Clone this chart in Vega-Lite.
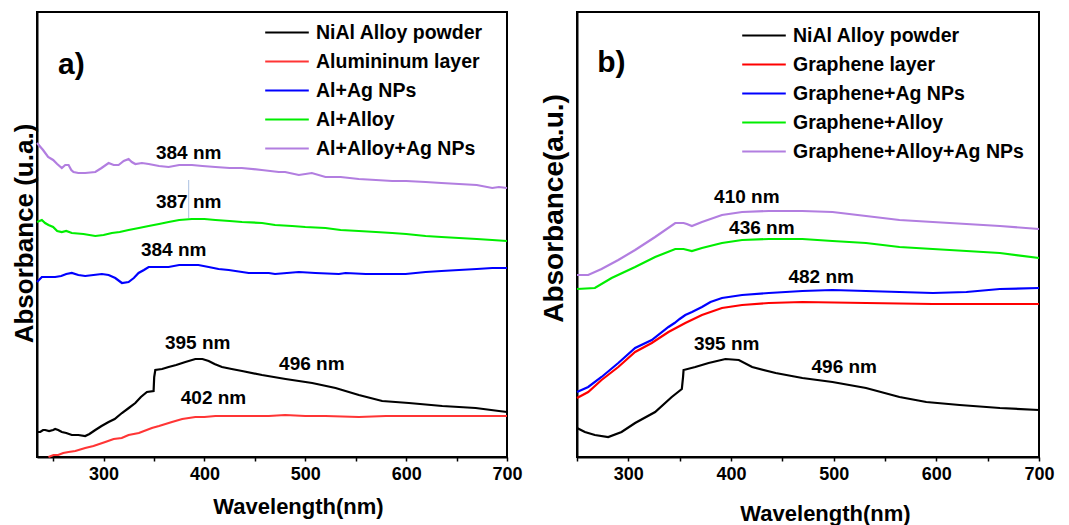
{
  "$schema": "https://vega.github.io/schema/vega-lite/v6.json",
  "background": "white",
  "padding": {"left": 10, "top": 11, "right": 5, "bottom": 0},
  "bounds": "flush",
  "spacing": 70,
  "config": {
    "font": "Liberation Sans",
    "view": {"stroke": "black", "strokeWidth": 2},
    "axis": {
      "grid": false,
      "domainColor": "black",
      "domainWidth": 2,
      "tickColor": "black",
      "tickWidth": 1.5,
      "labelFont": "Liberation Sans",
      "labelFontWeight": "bold",
      "labelColor": "black",
      "titleFont": "Liberation Sans",
      "titleFontWeight": "bold",
      "titleColor": "black"
    },
    "legend": {
      "orient": "none",
      "title": null,
      "symbolType": "stroke",
      "symbolSize": 1900,
      "symbolStrokeWidth": 2.2,
      "labelFont": "Liberation Sans",
      "labelFontWeight": "bold",
      "labelFontSize": 19.5,
      "labelColor": "black",
      "labelLimit": 0,
      "clipHeight": 29,
      "rowPadding": 0,
      "labelOffset": 6
    }
  },
  "datasets": {
    "specA": [
      {"sample": "Al+Alloy+Ag NPs", "wavelength": 234, "absorbance": 3.14},
      {"sample": "Al+Alloy+Ag NPs", "wavelength": 240, "absorbance": 3.07},
      {"sample": "Al+Alloy+Ag NPs", "wavelength": 245, "absorbance": 3.0},
      {"sample": "Al+Alloy+Ag NPs", "wavelength": 250, "absorbance": 2.97},
      {"sample": "Al+Alloy+Ag NPs", "wavelength": 254, "absorbance": 2.93},
      {"sample": "Al+Alloy+Ag NPs", "wavelength": 258.6, "absorbance": 2.89},
      {"sample": "Al+Alloy+Ag NPs", "wavelength": 262, "absorbance": 2.92},
      {"sample": "Al+Alloy+Ag NPs", "wavelength": 265.3, "absorbance": 2.92},
      {"sample": "Al+Alloy+Ag NPs", "wavelength": 268, "absorbance": 2.87},
      {"sample": "Al+Alloy+Ag NPs", "wavelength": 270.2, "absorbance": 2.85},
      {"sample": "Al+Alloy+Ag NPs", "wavelength": 275, "absorbance": 2.84},
      {"sample": "Al+Alloy+Ag NPs", "wavelength": 281.8, "absorbance": 2.84},
      {"sample": "Al+Alloy+Ag NPs", "wavelength": 291.8, "absorbance": 2.85},
      {"sample": "Al+Alloy+Ag NPs", "wavelength": 298, "absorbance": 2.89},
      {"sample": "Al+Alloy+Ag NPs", "wavelength": 305, "absorbance": 2.94},
      {"sample": "Al+Alloy+Ag NPs", "wavelength": 310, "absorbance": 2.92},
      {"sample": "Al+Alloy+Ag NPs", "wavelength": 314.9, "absorbance": 2.92},
      {"sample": "Al+Alloy+Ag NPs", "wavelength": 320, "absorbance": 2.96},
      {"sample": "Al+Alloy+Ag NPs", "wavelength": 324.8, "absorbance": 2.98},
      {"sample": "Al+Alloy+Ag NPs", "wavelength": 328, "absorbance": 2.95},
      {"sample": "Al+Alloy+Ag NPs", "wavelength": 331.5, "absorbance": 2.93},
      {"sample": "Al+Alloy+Ag NPs", "wavelength": 338, "absorbance": 2.94},
      {"sample": "Al+Alloy+Ag NPs", "wavelength": 344.7, "absorbance": 2.93},
      {"sample": "Al+Alloy+Ag NPs", "wavelength": 355, "absorbance": 2.91},
      {"sample": "Al+Alloy+Ag NPs", "wavelength": 364.5, "absorbance": 2.9},
      {"sample": "Al+Alloy+Ag NPs", "wavelength": 375, "absorbance": 2.92},
      {"sample": "Al+Alloy+Ag NPs", "wavelength": 387.6, "absorbance": 2.92},
      {"sample": "Al+Alloy+Ag NPs", "wavelength": 398, "absorbance": 2.91},
      {"sample": "Al+Alloy+Ag NPs", "wavelength": 410.9, "absorbance": 2.9},
      {"sample": "Al+Alloy+Ag NPs", "wavelength": 425, "absorbance": 2.89},
      {"sample": "Al+Alloy+Ag NPs", "wavelength": 437, "absorbance": 2.89},
      {"sample": "Al+Alloy+Ag NPs", "wavelength": 456.8, "absorbance": 2.87},
      {"sample": "Al+Alloy+Ag NPs", "wavelength": 473.7, "absorbance": 2.85},
      {"sample": "Al+Alloy+Ag NPs", "wavelength": 480, "absorbance": 2.85},
      {"sample": "Al+Alloy+Ag NPs", "wavelength": 493.6, "absorbance": 2.82},
      {"sample": "Al+Alloy+Ag NPs", "wavelength": 506.5, "absorbance": 2.84},
      {"sample": "Al+Alloy+Ag NPs", "wavelength": 520, "absorbance": 2.8},
      {"sample": "Al+Alloy+Ag NPs", "wavelength": 535, "absorbance": 2.8},
      {"sample": "Al+Alloy+Ag NPs", "wavelength": 553, "absorbance": 2.78},
      {"sample": "Al+Alloy+Ag NPs", "wavelength": 570, "absorbance": 2.77},
      {"sample": "Al+Alloy+Ag NPs", "wavelength": 586.2, "absorbance": 2.76},
      {"sample": "Al+Alloy+Ag NPs", "wavelength": 600, "absorbance": 2.76},
      {"sample": "Al+Alloy+Ag NPs", "wavelength": 619.3, "absorbance": 2.75},
      {"sample": "Al+Alloy+Ag NPs", "wavelength": 635, "absorbance": 2.74},
      {"sample": "Al+Alloy+Ag NPs", "wavelength": 652.4, "absorbance": 2.73},
      {"sample": "Al+Alloy+Ag NPs", "wavelength": 670, "absorbance": 2.72},
      {"sample": "Al+Alloy+Ag NPs", "wavelength": 685.4, "absorbance": 2.69},
      {"sample": "Al+Alloy+Ag NPs", "wavelength": 692, "absorbance": 2.7},
      {"sample": "Al+Alloy+Ag NPs", "wavelength": 700, "absorbance": 2.69},

      {"sample": "Al+Alloy", "wavelength": 234, "absorbance": 2.35},
      {"sample": "Al+Alloy", "wavelength": 238.8, "absorbance": 2.37},
      {"sample": "Al+Alloy", "wavelength": 242, "absorbance": 2.34},
      {"sample": "Al+Alloy", "wavelength": 245.4, "absorbance": 2.32},
      {"sample": "Al+Alloy", "wavelength": 250, "absorbance": 2.3},
      {"sample": "Al+Alloy", "wavelength": 254, "absorbance": 2.26},
      {"sample": "Al+Alloy", "wavelength": 258.6, "absorbance": 2.25},
      {"sample": "Al+Alloy", "wavelength": 263, "absorbance": 2.26},
      {"sample": "Al+Alloy", "wavelength": 268.5, "absorbance": 2.24},
      {"sample": "Al+Alloy", "wavelength": 280, "absorbance": 2.23},
      {"sample": "Al+Alloy", "wavelength": 291.8, "absorbance": 2.21},
      {"sample": "Al+Alloy", "wavelength": 300, "absorbance": 2.22},
      {"sample": "Al+Alloy", "wavelength": 308.2, "absorbance": 2.24},
      {"sample": "Al+Alloy", "wavelength": 316, "absorbance": 2.25},
      {"sample": "Al+Alloy", "wavelength": 324.8, "absorbance": 2.27},
      {"sample": "Al+Alloy", "wavelength": 335, "absorbance": 2.29},
      {"sample": "Al+Alloy", "wavelength": 344.7, "absorbance": 2.31},
      {"sample": "Al+Alloy", "wavelength": 355, "absorbance": 2.33},
      {"sample": "Al+Alloy", "wavelength": 364.5, "absorbance": 2.35},
      {"sample": "Al+Alloy", "wavelength": 375, "absorbance": 2.37},
      {"sample": "Al+Alloy", "wavelength": 387.6, "absorbance": 2.38},
      {"sample": "Al+Alloy", "wavelength": 400, "absorbance": 2.38},
      {"sample": "Al+Alloy", "wavelength": 410.9, "absorbance": 2.37},
      {"sample": "Al+Alloy", "wavelength": 425, "absorbance": 2.36},
      {"sample": "Al+Alloy", "wavelength": 437.3, "absorbance": 2.35},
      {"sample": "Al+Alloy", "wavelength": 457.1, "absorbance": 2.34},
      {"sample": "Al+Alloy", "wavelength": 470, "absorbance": 2.32},
      {"sample": "Al+Alloy", "wavelength": 486.9, "absorbance": 2.31},
      {"sample": "Al+Alloy", "wavelength": 500, "absorbance": 2.3},
      {"sample": "Al+Alloy", "wavelength": 520, "absorbance": 2.29},
      {"sample": "Al+Alloy", "wavelength": 535, "absorbance": 2.27},
      {"sample": "Al+Alloy", "wavelength": 553, "absorbance": 2.26},
      {"sample": "Al+Alloy", "wavelength": 570, "absorbance": 2.25},
      {"sample": "Al+Alloy", "wavelength": 586.2, "absorbance": 2.24},
      {"sample": "Al+Alloy", "wavelength": 600, "absorbance": 2.23},
      {"sample": "Al+Alloy", "wavelength": 619.3, "absorbance": 2.21},
      {"sample": "Al+Alloy", "wavelength": 635, "absorbance": 2.2},
      {"sample": "Al+Alloy", "wavelength": 652.4, "absorbance": 2.19},
      {"sample": "Al+Alloy", "wavelength": 670, "absorbance": 2.18},
      {"sample": "Al+Alloy", "wavelength": 685.4, "absorbance": 2.17},
      {"sample": "Al+Alloy", "wavelength": 700, "absorbance": 2.16},

      {"sample": "Al+Ag NPs", "wavelength": 234, "absorbance": 1.75},
      {"sample": "Al+Ag NPs", "wavelength": 238.8, "absorbance": 1.8},
      {"sample": "Al+Ag NPs", "wavelength": 245, "absorbance": 1.8},
      {"sample": "Al+Ag NPs", "wavelength": 252, "absorbance": 1.8},
      {"sample": "Al+Ag NPs", "wavelength": 258, "absorbance": 1.81},
      {"sample": "Al+Ag NPs", "wavelength": 263, "absorbance": 1.83},
      {"sample": "Al+Ag NPs", "wavelength": 268.5, "absorbance": 1.84},
      {"sample": "Al+Ag NPs", "wavelength": 275, "absorbance": 1.82},
      {"sample": "Al+Ag NPs", "wavelength": 281.8, "absorbance": 1.81},
      {"sample": "Al+Ag NPs", "wavelength": 290, "absorbance": 1.82},
      {"sample": "Al+Ag NPs", "wavelength": 298.3, "absorbance": 1.83},
      {"sample": "Al+Ag NPs", "wavelength": 305, "absorbance": 1.82},
      {"sample": "Al+Ag NPs", "wavelength": 311.6, "absorbance": 1.79},
      {"sample": "Al+Ag NPs", "wavelength": 318.2, "absorbance": 1.74},
      {"sample": "Al+Ag NPs", "wavelength": 324.8, "absorbance": 1.75},
      {"sample": "Al+Ag NPs", "wavelength": 330, "absorbance": 1.79},
      {"sample": "Al+Ag NPs", "wavelength": 334.7, "absorbance": 1.84},
      {"sample": "Al+Ag NPs", "wavelength": 340, "absorbance": 1.87},
      {"sample": "Al+Ag NPs", "wavelength": 344.7, "absorbance": 1.9},
      {"sample": "Al+Ag NPs", "wavelength": 355, "absorbance": 1.9},
      {"sample": "Al+Ag NPs", "wavelength": 364.5, "absorbance": 1.9},
      {"sample": "Al+Ag NPs", "wavelength": 375, "absorbance": 1.92},
      {"sample": "Al+Ag NPs", "wavelength": 384.4, "absorbance": 1.92},
      {"sample": "Al+Ag NPs", "wavelength": 394, "absorbance": 1.92},
      {"sample": "Al+Ag NPs", "wavelength": 404.2, "absorbance": 1.9},
      {"sample": "Al+Ag NPs", "wavelength": 414, "absorbance": 1.88},
      {"sample": "Al+Ag NPs", "wavelength": 424.1, "absorbance": 1.87},
      {"sample": "Al+Ag NPs", "wavelength": 443.9, "absorbance": 1.84},
      {"sample": "Al+Ag NPs", "wavelength": 463.8, "absorbance": 1.84},
      {"sample": "Al+Ag NPs", "wavelength": 470, "absorbance": 1.83},
      {"sample": "Al+Ag NPs", "wavelength": 493.6, "absorbance": 1.85},
      {"sample": "Al+Ag NPs", "wavelength": 510, "absorbance": 1.84},
      {"sample": "Al+Ag NPs", "wavelength": 533.3, "absorbance": 1.83},
      {"sample": "Al+Ag NPs", "wavelength": 540, "absorbance": 1.84},
      {"sample": "Al+Ag NPs", "wavelength": 560, "absorbance": 1.83},
      {"sample": "Al+Ag NPs", "wavelength": 599.5, "absorbance": 1.83},
      {"sample": "Al+Ag NPs", "wavelength": 619.3, "absorbance": 1.85},
      {"sample": "Al+Ag NPs", "wavelength": 635, "absorbance": 1.86},
      {"sample": "Al+Ag NPs", "wavelength": 652.4, "absorbance": 1.87},
      {"sample": "Al+Ag NPs", "wavelength": 670, "absorbance": 1.88},
      {"sample": "Al+Ag NPs", "wavelength": 685.4, "absorbance": 1.89},
      {"sample": "Al+Ag NPs", "wavelength": 700, "absorbance": 1.89},

      {"sample": "NiAl Alloy powder", "wavelength": 234, "absorbance": 0.25},
      {"sample": "NiAl Alloy powder", "wavelength": 237.2, "absorbance": 0.25},
      {"sample": "NiAl Alloy powder", "wavelength": 240, "absorbance": 0.27},
      {"sample": "NiAl Alloy powder", "wavelength": 242.1, "absorbance": 0.27},
      {"sample": "NiAl Alloy powder", "wavelength": 246, "absorbance": 0.26},
      {"sample": "NiAl Alloy powder", "wavelength": 250, "absorbance": 0.27},
      {"sample": "NiAl Alloy powder", "wavelength": 252, "absorbance": 0.28},
      {"sample": "NiAl Alloy powder", "wavelength": 255, "absorbance": 0.27},
      {"sample": "NiAl Alloy powder", "wavelength": 258.6, "absorbance": 0.25},
      {"sample": "NiAl Alloy powder", "wavelength": 263, "absorbance": 0.24},
      {"sample": "NiAl Alloy powder", "wavelength": 268.5, "absorbance": 0.22},
      {"sample": "NiAl Alloy powder", "wavelength": 275, "absorbance": 0.22},
      {"sample": "NiAl Alloy powder", "wavelength": 281.8, "absorbance": 0.21},
      {"sample": "NiAl Alloy powder", "wavelength": 286, "absorbance": 0.23},
      {"sample": "NiAl Alloy powder", "wavelength": 291.8, "absorbance": 0.27},
      {"sample": "NiAl Alloy powder", "wavelength": 298, "absorbance": 0.31},
      {"sample": "NiAl Alloy powder", "wavelength": 305, "absorbance": 0.35},
      {"sample": "NiAl Alloy powder", "wavelength": 311, "absorbance": 0.38},
      {"sample": "NiAl Alloy powder", "wavelength": 318.2, "absorbance": 0.44},
      {"sample": "NiAl Alloy powder", "wavelength": 325, "absorbance": 0.49},
      {"sample": "NiAl Alloy powder", "wavelength": 331.5, "absorbance": 0.54},
      {"sample": "NiAl Alloy powder", "wavelength": 337, "absorbance": 0.6},
      {"sample": "NiAl Alloy powder", "wavelength": 343, "absorbance": 0.65},
      {"sample": "NiAl Alloy powder", "wavelength": 349.6, "absorbance": 0.66},
      {"sample": "NiAl Alloy powder", "wavelength": 350.2, "absorbance": 0.8},
      {"sample": "NiAl Alloy powder", "wavelength": 351.3, "absorbance": 0.87},
      {"sample": "NiAl Alloy powder", "wavelength": 358, "absorbance": 0.88},
      {"sample": "NiAl Alloy powder", "wavelength": 364.5, "absorbance": 0.9},
      {"sample": "NiAl Alloy powder", "wavelength": 372, "absorbance": 0.92},
      {"sample": "NiAl Alloy powder", "wavelength": 381.1, "absorbance": 0.95},
      {"sample": "NiAl Alloy powder", "wavelength": 391, "absorbance": 0.98},
      {"sample": "NiAl Alloy powder", "wavelength": 398, "absorbance": 0.98},
      {"sample": "NiAl Alloy powder", "wavelength": 404.2, "absorbance": 0.96},
      {"sample": "NiAl Alloy powder", "wavelength": 410, "absorbance": 0.93},
      {"sample": "NiAl Alloy powder", "wavelength": 417.4, "absorbance": 0.9},
      {"sample": "NiAl Alloy powder", "wavelength": 427, "absorbance": 0.88},
      {"sample": "NiAl Alloy powder", "wavelength": 437.3, "absorbance": 0.86},
      {"sample": "NiAl Alloy powder", "wavelength": 457.1, "absorbance": 0.82},
      {"sample": "NiAl Alloy powder", "wavelength": 480.4, "absorbance": 0.78},
      {"sample": "NiAl Alloy powder", "wavelength": 506.8, "absorbance": 0.74},
      {"sample": "NiAl Alloy powder", "wavelength": 530, "absorbance": 0.69},
      {"sample": "NiAl Alloy powder", "wavelength": 553.1, "absorbance": 0.62},
      {"sample": "NiAl Alloy powder", "wavelength": 576.2, "absorbance": 0.56},
      {"sample": "NiAl Alloy powder", "wavelength": 602.7, "absorbance": 0.54},
      {"sample": "NiAl Alloy powder", "wavelength": 635.8, "absorbance": 0.51},
      {"sample": "NiAl Alloy powder", "wavelength": 668.9, "absorbance": 0.49},
      {"sample": "NiAl Alloy powder", "wavelength": 692, "absorbance": 0.46},
      {"sample": "NiAl Alloy powder", "wavelength": 700, "absorbance": 0.45},

      {"sample": "Alumininum layer", "wavelength": 245.4, "absorbance": 0.0},
      {"sample": "Alumininum layer", "wavelength": 250.4, "absorbance": 0.02},
      {"sample": "Alumininum layer", "wavelength": 255, "absorbance": 0.02},
      {"sample": "Alumininum layer", "wavelength": 260, "absorbance": 0.04},
      {"sample": "Alumininum layer", "wavelength": 265.3, "absorbance": 0.05},
      {"sample": "Alumininum layer", "wavelength": 272, "absorbance": 0.06},
      {"sample": "Alumininum layer", "wavelength": 281.8, "absorbance": 0.09},
      {"sample": "Alumininum layer", "wavelength": 290, "absorbance": 0.11},
      {"sample": "Alumininum layer", "wavelength": 301.7, "absorbance": 0.15},
      {"sample": "Alumininum layer", "wavelength": 310, "absorbance": 0.18},
      {"sample": "Alumininum layer", "wavelength": 318, "absorbance": 0.19},
      {"sample": "Alumininum layer", "wavelength": 324.8, "absorbance": 0.22},
      {"sample": "Alumininum layer", "wavelength": 335, "absorbance": 0.24},
      {"sample": "Alumininum layer", "wavelength": 347.9, "absorbance": 0.29},
      {"sample": "Alumininum layer", "wavelength": 355, "absorbance": 0.31},
      {"sample": "Alumininum layer", "wavelength": 367.8, "absorbance": 0.35},
      {"sample": "Alumininum layer", "wavelength": 378, "absorbance": 0.38},
      {"sample": "Alumininum layer", "wavelength": 391, "absorbance": 0.4},
      {"sample": "Alumininum layer", "wavelength": 400, "absorbance": 0.4},
      {"sample": "Alumininum layer", "wavelength": 410.9, "absorbance": 0.41},
      {"sample": "Alumininum layer", "wavelength": 430.7, "absorbance": 0.41},
      {"sample": "Alumininum layer", "wavelength": 463.8, "absorbance": 0.41},
      {"sample": "Alumininum layer", "wavelength": 480, "absorbance": 0.42},
      {"sample": "Alumininum layer", "wavelength": 500, "absorbance": 0.41},
      {"sample": "Alumininum layer", "wavelength": 520, "absorbance": 0.41},
      {"sample": "Alumininum layer", "wavelength": 553.1, "absorbance": 0.4},
      {"sample": "Alumininum layer", "wavelength": 580, "absorbance": 0.41},
      {"sample": "Alumininum layer", "wavelength": 619.3, "absorbance": 0.41},
      {"sample": "Alumininum layer", "wavelength": 650, "absorbance": 0.41},
      {"sample": "Alumininum layer", "wavelength": 700, "absorbance": 0.41}
    ],
    "specB": [
      {"sample": "Graphene+Alloy+Ag NPs", "wavelength": 250, "absorbance": 1.82},
      {"sample": "Graphene+Alloy+Ag NPs", "wavelength": 260.9, "absorbance": 1.82},
      {"sample": "Graphene+Alloy+Ag NPs", "wavelength": 273.9, "absorbance": 1.88},
      {"sample": "Graphene+Alloy+Ag NPs", "wavelength": 290.2, "absorbance": 1.97},
      {"sample": "Graphene+Alloy+Ag NPs", "wavelength": 306.6, "absorbance": 2.07},
      {"sample": "Graphene+Alloy+Ag NPs", "wavelength": 326.1, "absorbance": 2.2},
      {"sample": "Graphene+Alloy+Ag NPs", "wavelength": 345.7, "absorbance": 2.34},
      {"sample": "Graphene+Alloy+Ag NPs", "wavelength": 350, "absorbance": 2.34},
      {"sample": "Graphene+Alloy+Ag NPs", "wavelength": 353.8, "absorbance": 2.34},
      {"sample": "Graphene+Alloy+Ag NPs", "wavelength": 357, "absorbance": 2.33},
      {"sample": "Graphene+Alloy+Ag NPs", "wavelength": 361.9, "absorbance": 2.31},
      {"sample": "Graphene+Alloy+Ag NPs", "wavelength": 371.7, "absorbance": 2.35},
      {"sample": "Graphene+Alloy+Ag NPs", "wavelength": 391.2, "absorbance": 2.42},
      {"sample": "Graphene+Alloy+Ag NPs", "wavelength": 410.8, "absorbance": 2.45},
      {"sample": "Graphene+Alloy+Ag NPs", "wavelength": 436.9, "absorbance": 2.46},
      {"sample": "Graphene+Alloy+Ag NPs", "wavelength": 469.5, "absorbance": 2.46},
      {"sample": "Graphene+Alloy+Ag NPs", "wavelength": 498.8, "absorbance": 2.45},
      {"sample": "Graphene+Alloy+Ag NPs", "wavelength": 531.5, "absorbance": 2.41},
      {"sample": "Graphene+Alloy+Ag NPs", "wavelength": 564.1, "absorbance": 2.37},
      {"sample": "Graphene+Alloy+Ag NPs", "wavelength": 596.6, "absorbance": 2.35},
      {"sample": "Graphene+Alloy+Ag NPs", "wavelength": 629.3, "absorbance": 2.33},
      {"sample": "Graphene+Alloy+Ag NPs", "wavelength": 661.9, "absorbance": 2.31},
      {"sample": "Graphene+Alloy+Ag NPs", "wavelength": 700, "absorbance": 2.28},

      {"sample": "Graphene+Alloy", "wavelength": 250, "absorbance": 1.68},
      {"sample": "Graphene+Alloy", "wavelength": 267.4, "absorbance": 1.69},
      {"sample": "Graphene+Alloy", "wavelength": 283.7, "absorbance": 1.79},
      {"sample": "Graphene+Alloy", "wavelength": 306.6, "absorbance": 1.9},
      {"sample": "Graphene+Alloy", "wavelength": 326.1, "absorbance": 2.0},
      {"sample": "Graphene+Alloy", "wavelength": 345.7, "absorbance": 2.08},
      {"sample": "Graphene+Alloy", "wavelength": 353.8, "absorbance": 2.08},
      {"sample": "Graphene+Alloy", "wavelength": 361.9, "absorbance": 2.06},
      {"sample": "Graphene+Alloy", "wavelength": 371.7, "absorbance": 2.09},
      {"sample": "Graphene+Alloy", "wavelength": 391.2, "absorbance": 2.14},
      {"sample": "Graphene+Alloy", "wavelength": 410.8, "absorbance": 2.17},
      {"sample": "Graphene+Alloy", "wavelength": 436.9, "absorbance": 2.18},
      {"sample": "Graphene+Alloy", "wavelength": 469.5, "absorbance": 2.18},
      {"sample": "Graphene+Alloy", "wavelength": 498.8, "absorbance": 2.16},
      {"sample": "Graphene+Alloy", "wavelength": 531.5, "absorbance": 2.14},
      {"sample": "Graphene+Alloy", "wavelength": 564.1, "absorbance": 2.1},
      {"sample": "Graphene+Alloy", "wavelength": 596.6, "absorbance": 2.08},
      {"sample": "Graphene+Alloy", "wavelength": 629.3, "absorbance": 2.06},
      {"sample": "Graphene+Alloy", "wavelength": 661.9, "absorbance": 2.04},
      {"sample": "Graphene+Alloy", "wavelength": 700, "absorbance": 1.99},

      {"sample": "Graphene+Ag NPs", "wavelength": 250, "absorbance": 0.65},
      {"sample": "Graphene+Ag NPs", "wavelength": 260.9, "absorbance": 0.7},
      {"sample": "Graphene+Ag NPs", "wavelength": 273.9, "absorbance": 0.8},
      {"sample": "Graphene+Ag NPs", "wavelength": 290.2, "absorbance": 0.94},
      {"sample": "Graphene+Ag NPs", "wavelength": 306.6, "absorbance": 1.09},
      {"sample": "Graphene+Ag NPs", "wavelength": 322.8, "absorbance": 1.17},
      {"sample": "Graphene+Ag NPs", "wavelength": 339.1, "absorbance": 1.3},
      {"sample": "Graphene+Ag NPs", "wavelength": 345, "absorbance": 1.34},
      {"sample": "Graphene+Ag NPs", "wavelength": 350, "absorbance": 1.38},
      {"sample": "Graphene+Ag NPs", "wavelength": 355.5, "absorbance": 1.42},
      {"sample": "Graphene+Ag NPs", "wavelength": 362, "absorbance": 1.45},
      {"sample": "Graphene+Ag NPs", "wavelength": 371.7, "absorbance": 1.5},
      {"sample": "Graphene+Ag NPs", "wavelength": 380, "absorbance": 1.55},
      {"sample": "Graphene+Ag NPs", "wavelength": 391.2, "absorbance": 1.59},
      {"sample": "Graphene+Ag NPs", "wavelength": 410.8, "absorbance": 1.62},
      {"sample": "Graphene+Ag NPs", "wavelength": 436.9, "absorbance": 1.64},
      {"sample": "Graphene+Ag NPs", "wavelength": 469.5, "absorbance": 1.66},
      {"sample": "Graphene+Ag NPs", "wavelength": 498.8, "absorbance": 1.67},
      {"sample": "Graphene+Ag NPs", "wavelength": 531.5, "absorbance": 1.66},
      {"sample": "Graphene+Ag NPs", "wavelength": 564.1, "absorbance": 1.65},
      {"sample": "Graphene+Ag NPs", "wavelength": 596.6, "absorbance": 1.64},
      {"sample": "Graphene+Ag NPs", "wavelength": 629.3, "absorbance": 1.65},
      {"sample": "Graphene+Ag NPs", "wavelength": 661.9, "absorbance": 1.68},
      {"sample": "Graphene+Ag NPs", "wavelength": 700, "absorbance": 1.69},

      {"sample": "Graphene layer", "wavelength": 250, "absorbance": 0.59},
      {"sample": "Graphene layer", "wavelength": 260.9, "absorbance": 0.65},
      {"sample": "Graphene layer", "wavelength": 273.9, "absorbance": 0.77},
      {"sample": "Graphene layer", "wavelength": 290.2, "absorbance": 0.9},
      {"sample": "Graphene layer", "wavelength": 306.6, "absorbance": 1.05},
      {"sample": "Graphene layer", "wavelength": 322.8, "absorbance": 1.14},
      {"sample": "Graphene layer", "wavelength": 339.1, "absorbance": 1.25},
      {"sample": "Graphene layer", "wavelength": 355.5, "absorbance": 1.34},
      {"sample": "Graphene layer", "wavelength": 371.7, "absorbance": 1.42},
      {"sample": "Graphene layer", "wavelength": 391.2, "absorbance": 1.49},
      {"sample": "Graphene layer", "wavelength": 410.8, "absorbance": 1.52},
      {"sample": "Graphene layer", "wavelength": 436.9, "absorbance": 1.54},
      {"sample": "Graphene layer", "wavelength": 469.5, "absorbance": 1.55},
      {"sample": "Graphene layer", "wavelength": 531.5, "absorbance": 1.54},
      {"sample": "Graphene layer", "wavelength": 596.6, "absorbance": 1.53},
      {"sample": "Graphene layer", "wavelength": 661.9, "absorbance": 1.53},
      {"sample": "Graphene layer", "wavelength": 700, "absorbance": 1.53},

      {"sample": "NiAl Alloy powder", "wavelength": 250, "absorbance": 0.29},
      {"sample": "NiAl Alloy powder", "wavelength": 257.7, "absorbance": 0.25},
      {"sample": "NiAl Alloy powder", "wavelength": 267.4, "absorbance": 0.22},
      {"sample": "NiAl Alloy powder", "wavelength": 280.4, "absorbance": 0.2},
      {"sample": "NiAl Alloy powder", "wavelength": 293.4, "absorbance": 0.25},
      {"sample": "NiAl Alloy powder", "wavelength": 306.6, "absorbance": 0.34},
      {"sample": "NiAl Alloy powder", "wavelength": 326.1, "absorbance": 0.45},
      {"sample": "NiAl Alloy powder", "wavelength": 342.3, "absorbance": 0.6},
      {"sample": "NiAl Alloy powder", "wavelength": 352.1, "absorbance": 0.68},
      {"sample": "NiAl Alloy powder", "wavelength": 353.3, "absorbance": 0.8},
      {"sample": "NiAl Alloy powder", "wavelength": 353.8, "absorbance": 0.87},
      {"sample": "NiAl Alloy powder", "wavelength": 365.2, "absorbance": 0.9},
      {"sample": "NiAl Alloy powder", "wavelength": 378.2, "absorbance": 0.94},
      {"sample": "NiAl Alloy powder", "wavelength": 394.6, "absorbance": 0.98},
      {"sample": "NiAl Alloy powder", "wavelength": 407.6, "absorbance": 0.97},
      {"sample": "NiAl Alloy powder", "wavelength": 420.6, "absorbance": 0.9},
      {"sample": "NiAl Alloy powder", "wavelength": 443.5, "absorbance": 0.84},
      {"sample": "NiAl Alloy powder", "wavelength": 469.5, "absorbance": 0.79},
      {"sample": "NiAl Alloy powder", "wavelength": 498.8, "absorbance": 0.75},
      {"sample": "NiAl Alloy powder", "wavelength": 531.5, "absorbance": 0.69},
      {"sample": "NiAl Alloy powder", "wavelength": 564.1, "absorbance": 0.6},
      {"sample": "NiAl Alloy powder", "wavelength": 590.2, "absorbance": 0.55},
      {"sample": "NiAl Alloy powder", "wavelength": 622.7, "absorbance": 0.52},
      {"sample": "NiAl Alloy powder", "wavelength": 661.9, "absorbance": 0.49},
      {"sample": "NiAl Alloy powder", "wavelength": 700, "absorbance": 0.47}
    ],
    "peaksA": [
      {"wavelength": 384.4, "absorbance": 3.04, "label": "384 nm"},
      {"wavelength": 384.4, "absorbance": 2.55, "label": "387 nm"},
      {"wavelength": 369.5, "absorbance": 2.07, "label": "384 nm"},
      {"wavelength": 393.3, "absorbance": 1.14, "label": "395 nm"},
      {"wavelength": 506.5, "absorbance": 0.93, "label": "496 nm"},
      {"wavelength": 409, "absorbance": 0.59, "label": "402 nm"}
    ],
    "peaksB": [
      {"wavelength": 415.4, "absorbance": 2.6, "label": "410 nm"},
      {"wavelength": 430, "absorbance": 2.29, "label": "436 nm"},
      {"wavelength": 487.8, "absorbance": 1.8, "label": "482 nm"},
      {"wavelength": 395.8, "absorbance": 1.13, "label": "395 nm"},
      {"wavelength": 510.3, "absorbance": 0.9, "label": "496 nm"}
    ],
    "markerA": [
      {"wavelength": 384.4, "low": 2.39, "high": 2.77}
    ],
    "tagA": [{"wavelength": 268, "absorbance": 3.92, "label": "a)"}],
    "tagB": [{"wavelength": 283.4, "absorbance": 3.94, "label": "b)"}]
  },
  "resolve": {"scale": {"color": "independent", "x": "independent", "y": "independent"}},
  "hconcat": [
    {
      "width": 470,
      "height": 445,
      "encoding": {
        "x": {
          "field": "wavelength",
          "type": "quantitative",
          "scale": {"domain": [234, 700], "nice": false, "zero": false},
          "axis": {
            "title": "Wavelength(nm)",
            "values": [250, 300, 350, 400, 450, 500, 550, 600, 650, 700],
            "labelExpr": "datum.value % 100 === 0 ? datum.label : ''",
            "labelFlush": false,
            "labelOverlap": false,
            "tickSize": 4,
            "labelFontSize": 18,
            "labelPadding": 4,
            "titleFontSize": 22,
            "titleX": 261,
            "titleY": 56,
            "titleBaseline": "alphabetic"
          }
        },
        "y": {
          "field": "absorbance",
          "type": "quantitative",
          "scale": {"domain": [0, 4.45], "nice": false},
          "axis": {
            "title": "Absorbance (u.a.)",
            "ticks": false,
            "labels": false,
            "titleFontSize": 26,
            "titleX": -5,
            "titleY": 221,
            "titleAngle": -90,
            "titleBaseline": "alphabetic"
          }
        }
      },
      "layer": [
        {
          "data": {"name": "specA"},
          "mark": {"type": "line", "strokeWidth": 2.2},
          "encoding": {
            "color": {
              "field": "sample",
              "type": "nominal",
              "scale": {
                "domain": ["NiAl Alloy powder", "Alumininum layer", "Al+Ag NPs", "Al+Alloy", "Al+Alloy+Ag NPs"],
                "range": ["#000000", "#ff3535", "#0000ff", "#00ee00", "#b27ee0"]
              },
              "legend": {"legendX": 227, "legendY": 6}
            }
          }
        },
        {
          "data": {"name": "markerA"},
          "mark": {"type": "rule", "color": "#a9bfe0", "strokeWidth": 1},
          "encoding": {
            "y": {"field": "low", "type": "quantitative"},
            "y2": {"field": "high"}
          }
        },
        {
          "data": {"name": "peaksA"},
          "mark": {"type": "text", "font": "Liberation Sans", "fontWeight": "bold", "fontSize": 19, "color": "black", "baseline": "middle"},
          "encoding": {"text": {"field": "label"}}
        },
        {
          "data": {"name": "tagA"},
          "mark": {"type": "text", "font": "Liberation Sans", "fontWeight": "bold", "fontSize": 30, "color": "black", "baseline": "middle"},
          "encoding": {"text": {"field": "label"}}
        }
      ]
    },
    {
      "width": 462,
      "height": 445,
      "encoding": {
        "x": {
          "field": "wavelength",
          "type": "quantitative",
          "scale": {"domain": [250, 700], "nice": false, "zero": false},
          "axis": {
            "title": "Wavelength(nm)",
            "values": [250, 300, 350, 400, 450, 500, 550, 600, 650, 700],
            "labelExpr": "datum.value % 100 === 0 ? datum.label : ''",
            "labelFlush": false,
            "labelOverlap": false,
            "tickSize": 4,
            "labelFontSize": 18,
            "labelPadding": 4,
            "titleFontSize": 22,
            "titleX": 248,
            "titleY": 63,
            "titleBaseline": "alphabetic"
          }
        },
        "y": {
          "field": "absorbance",
          "type": "quantitative",
          "scale": {"domain": [0, 4.45], "nice": false},
          "axis": {
            "title": "Absorbance(a.u.)",
            "ticks": false,
            "labels": false,
            "titleFontSize": 28,
            "titleX": -15,
            "titleY": 196,
            "titleAngle": -90,
            "titleBaseline": "alphabetic"
          }
        }
      },
      "layer": [
        {
          "data": {"name": "specB"},
          "mark": {"type": "line", "strokeWidth": 2.2},
          "encoding": {
            "color": {
              "field": "sample",
              "type": "nominal",
              "scale": {
                "domain": ["NiAl Alloy powder", "Graphene layer", "Graphene+Ag NPs", "Graphene+Alloy", "Graphene+Alloy+Ag NPs"],
                "range": ["#000000", "#ff0000", "#0000ff", "#00ee00", "#b27ee0"]
              },
              "legend": {"legendX": 164, "legendY": 9}
            }
          }
        },
        {
          "data": {"name": "peaksB"},
          "mark": {"type": "text", "font": "Liberation Sans", "fontWeight": "bold", "fontSize": 19, "color": "black", "baseline": "middle"},
          "encoding": {"text": {"field": "label"}}
        },
        {
          "data": {"name": "tagB"},
          "mark": {"type": "text", "font": "Liberation Sans", "fontWeight": "bold", "fontSize": 30, "color": "black", "baseline": "middle"},
          "encoding": {"text": {"field": "label"}}
        }
      ]
    }
  ]
}
